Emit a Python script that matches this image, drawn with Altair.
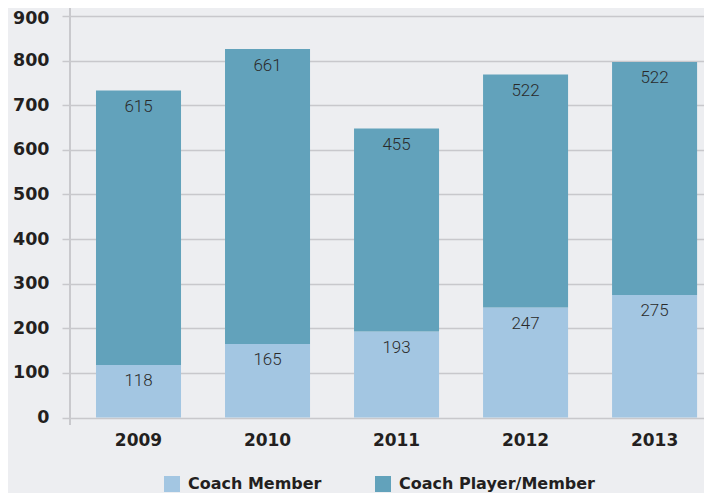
import altair as alt
import pandas as pd

years = ["2009", "2010", "2011", "2012", "2013"]
coach_member = [118, 165, 193, 247, 275]
coach_player = [615, 661, 455, 522, 522]
series = ["Coach Member", "Coach Player/Member"]
colors = ["#a3c6e2", "#62a2bb"]
y_ticks = [0, 100, 200, 300, 400, 500, 600, 700, 800, 900]

rows = []
for i, y in enumerate(years):
    rows.append({"year": y, "series": series[0], "value": coach_member[i], "ord": 0})
    rows.append({"year": y, "series": series[1], "value": coach_player[i], "ord": 1})
df = pd.DataFrame(rows)

H = 401.6
W = 634
grid_col = "#c8c8cc"
txt_col = "#231f20"

base = alt.Chart(df).transform_stack(
    stack="value", groupby=["year"], as_=["y0", "y1"],
    sort=[alt.SortField("ord", order="ascending")]
)

xenc = alt.X("year:N", sort=years, title=None,
             scale=alt.Scale(paddingInner=0.341, paddingOuter=0.1275, align=0.79),
             axis=alt.Axis(domain=False, ticks=False, labelFont="DejaVu Sans",
                           labelFontWeight="bold", labelFontSize=17, labelColor=txt_col,
                           labelPadding=15, labelAngle=0))
yscale = alt.Scale(domain=[0, 900], nice=False)

bars = base.mark_bar().encode(
    x=xenc,
    y=alt.Y("y1:Q", scale=yscale, title=None,
            axis=alt.Axis(values=y_ticks, domain=False, tickSize=8, tickColor=grid_col,
                          tickWidth=1.5, gridColor=grid_col, gridWidth=1.5,
                          labelFont="DejaVu Sans", labelFontWeight="bold",
                          labelFontSize=17.5, labelColor=txt_col, labelPadding=13,
                          labelOffset={"condition": {"test": "datum.value == 900", "value": 3},
                                       "value": 0})),
    y2="y0:Q",
    color=alt.Color("series:N", scale=alt.Scale(domain=series, range=colors), title=None,
                    legend=alt.Legend(orient="none", legendX=94, legendY=460,
                                      direction="horizontal", symbolType="square",
                                      symbolSize=256, symbolStrokeWidth=0,
                                      symbolOpacity=1, labelFont="DejaVu Sans",
                                      labelFontWeight="bold", labelFontSize=16,
                                      labelColor=txt_col, labelOffset=8, labelLimit=400,
                                      columnPadding=53, padding=0)),
)

labels = base.mark_text(font="Roboto", fontWeight=300, fontSize=17, color="#2a2a2a",
                        baseline="alphabetic", dy=21.5).encode(
    x=alt.X("year:N", sort=years),
    y=alt.Y("y1:Q", scale=yscale),
    text="value:Q",
)

axis_line = alt.Chart(df).mark_rule(color=grid_col, strokeWidth=1.5).encode(
    x=alt.value(0), y=alt.value(-10), y2=alt.value(H + 7)
)

chart = alt.layer(bars, labels, axis_line).properties(
    width=W, height=H,
    autosize=alt.AutoSizeParams(type="none"),
    padding={"left": 62, "top": 8, "right": 0, "bottom": 75},
    background="#edeef1",
).configure_view(stroke=None)

chart.save("out.html", embed_options={"renderer": "svg", "actions": False})
